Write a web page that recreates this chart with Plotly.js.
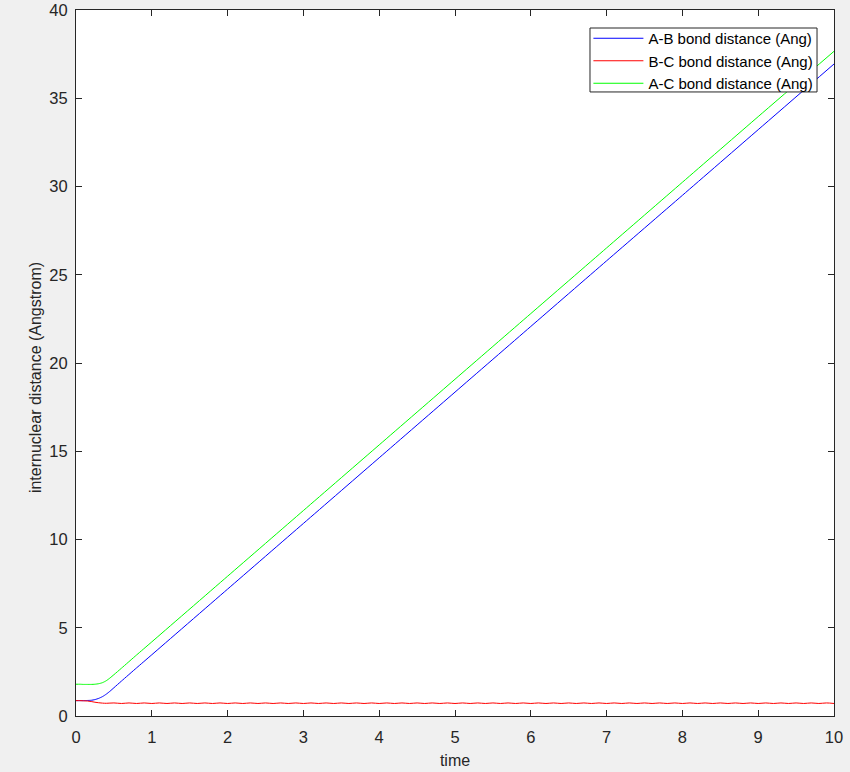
<!DOCTYPE html>
<html>
<head>
<meta charset="utf-8">
<script src="https://cdn.plot.ly/plotly-3.0.1.min.js"></script>
<style>html,body{margin:0;padding:0;background:#f0f0f0;}#chart{width:850px;height:772px;}</style>
</head>
<body>
<div id="chart"></div>
<script>
// A-B and A-C sampled times
var tLong = [0, 0.05, 0.1, 0.15, 0.2, 0.25, 0.3, 0.35, 0.4, 0.45, 0.5, 0.6, 0.8, 1, 2, 3, 4, 5, 6, 7, 8, 9, 10];
var abDist = [0.87, 0.87, 0.87, 0.88, 0.89, 0.93, 1.0, 1.1, 1.24, 1.41, 1.6, 1.98, 2.73, 3.47, 7.19, 10.91, 14.63, 18.35, 22.07, 25.79, 29.50, 33.22, 36.94];
var acDist = [1.80, 1.80, 1.79, 1.79, 1.79, 1.80, 1.83, 1.89, 2.0, 2.16, 2.34, 2.71, 3.46, 4.20, 7.92, 11.64, 15.36, 19.08, 22.80, 26.52, 30.24, 33.96, 37.66];

// B-C sampled times (finer to show the small vibration)
var tBC = [0, 0.05, 0.1, 0.15, 0.2, 0.25, 0.3, 0.35, 0.4,
  0.5, 0.6, 0.7, 0.8, 0.9, 1.0, 1.1, 1.2, 1.3, 1.4, 1.5, 1.6, 1.7, 1.8, 1.9, 2.0,
  2.1, 2.2, 2.3, 2.4, 2.5, 2.6, 2.7, 2.8, 2.9, 3.0, 3.1, 3.2, 3.3, 3.4, 3.5, 3.6, 3.7, 3.8, 3.9, 4.0,
  4.1, 4.2, 4.3, 4.4, 4.5, 4.6, 4.7, 4.8, 4.9, 5.0, 5.1, 5.2, 5.3, 5.4, 5.5, 5.6, 5.7, 5.8, 5.9, 6.0,
  6.1, 6.2, 6.3, 6.4, 6.5, 6.6, 6.7, 6.8, 6.9, 7.0, 7.1, 7.2, 7.3, 7.4, 7.5, 7.6, 7.7, 7.8, 7.9, 8.0,
  8.1, 8.2, 8.3, 8.4, 8.5, 8.6, 8.7, 8.8, 8.9, 9.0, 9.1, 9.2, 9.3, 9.4, 9.5, 9.6, 9.7, 9.8, 9.9, 10.0];
var bcDist = [0.87, 0.87, 0.86, 0.85, 0.82, 0.78, 0.75, 0.73, 0.72,
  0.74, 0.71, 0.74, 0.71, 0.74, 0.71, 0.74, 0.71, 0.74, 0.71, 0.74, 0.71, 0.74, 0.71, 0.74, 0.71,
  0.74, 0.71, 0.74, 0.71, 0.74, 0.71, 0.74, 0.71, 0.74, 0.71, 0.74, 0.71, 0.74, 0.71, 0.74, 0.71, 0.74, 0.71, 0.74, 0.71,
  0.74, 0.71, 0.74, 0.71, 0.74, 0.71, 0.74, 0.71, 0.74, 0.71, 0.74, 0.71, 0.74, 0.71, 0.74, 0.71, 0.74, 0.71, 0.74, 0.71,
  0.74, 0.71, 0.74, 0.71, 0.74, 0.71, 0.74, 0.71, 0.74, 0.71, 0.74, 0.71, 0.74, 0.71, 0.74, 0.71, 0.74, 0.71, 0.74, 0.71,
  0.74, 0.71, 0.74, 0.71, 0.74, 0.71, 0.74, 0.71, 0.74, 0.71, 0.74, 0.71, 0.74, 0.71, 0.74, 0.71, 0.74, 0.71, 0.74, 0.71];

var seriesNames = ['A-B bond distance (Ang)', 'B-C bond distance (Ang)', 'A-C bond distance (Ang)'];
var xTicks = [0, 1, 2, 3, 4, 5, 6, 7, 8, 9, 10];
var yTicks = [0, 5, 10, 15, 20, 25, 30, 35, 40];
var xTitle = 'time';
var yTitle = 'internuclear distance (Angstrom)';

var font = 'Liberation Sans, Arial, Helvetica, sans-serif';
var traces = [
  {x: tLong, y: abDist, name: seriesNames[0], mode: 'lines', line: {color: '#0000ff', width: 1, shape: 'spline', smoothing: 0.6}},
  {x: tBC, y: bcDist, name: seriesNames[1], mode: 'lines', line: {color: '#ff0000', width: 1, shape: 'spline', smoothing: 1}},
  {x: tLong, y: acDist, name: seriesNames[2], mode: 'lines', line: {color: '#00ff00', width: 1, shape: 'spline', smoothing: 0.6}}
];

var axisCommon = {
  showgrid: false, zeroline: false, showline: true, linecolor: '#262626', linewidth: 1,
  mirror: 'ticks', ticks: 'inside', ticklen: 6, tickwidth: 1, tickcolor: '#262626',
  tickfont: {family: font, size: 16.5, color: '#262626'}
};

var layout = {
  width: 850, height: 772,
  paper_bgcolor: '#f0f0f0', plot_bgcolor: '#ffffff',
  margin: {l: 76, r: 16, t: 10, b: 56},
  showlegend: true,
  legend: {
    x: 0.676, y: 0.983, xanchor: 'left', yanchor: 'top',
    bgcolor: 'rgba(0,0,0,0)', borderwidth: 0,
    font: {family: font, size: 15, color: '#000000'},
    tracegroupgap: 0, itemwidth: 50
  },
  shapes: [{
    type: 'rect', xref: 'paper', yref: 'paper', layer: 'above',
    x0: 0.6781, x1: 0.9776, y0: 0.8839, y1: 0.9745,
    fillcolor: '#ffffff', line: {color: '#262626', width: 1}
  }],
  annotations: [{
    text: yTitle, xref: 'paper', yref: 'paper', x: -0.0541, y: 0.480,
    xanchor: 'center', yanchor: 'middle', textangle: -90, showarrow: false,
    font: {family: font, size: 16, color: '#262626'}
  }],
  xaxis: Object.assign({}, axisCommon, {
    range: [0, 10], tickvals: xTicks, ticktext: xTicks.map(String), ticklabelstandoff: 6,
    title: {text: xTitle, font: {family: font, size: 16, color: '#262626'}, standoff: 10}
  }),
  yaxis: Object.assign({}, axisCommon, {
    range: [0, 40], tickvals: yTicks, ticktext: yTicks.map(String), ticklabelstandoff: 4
  })
};

Plotly.newPlot('chart', traces, layout, {displayModeBar: false, staticPlot: true});
</script>
</body>
</html>
